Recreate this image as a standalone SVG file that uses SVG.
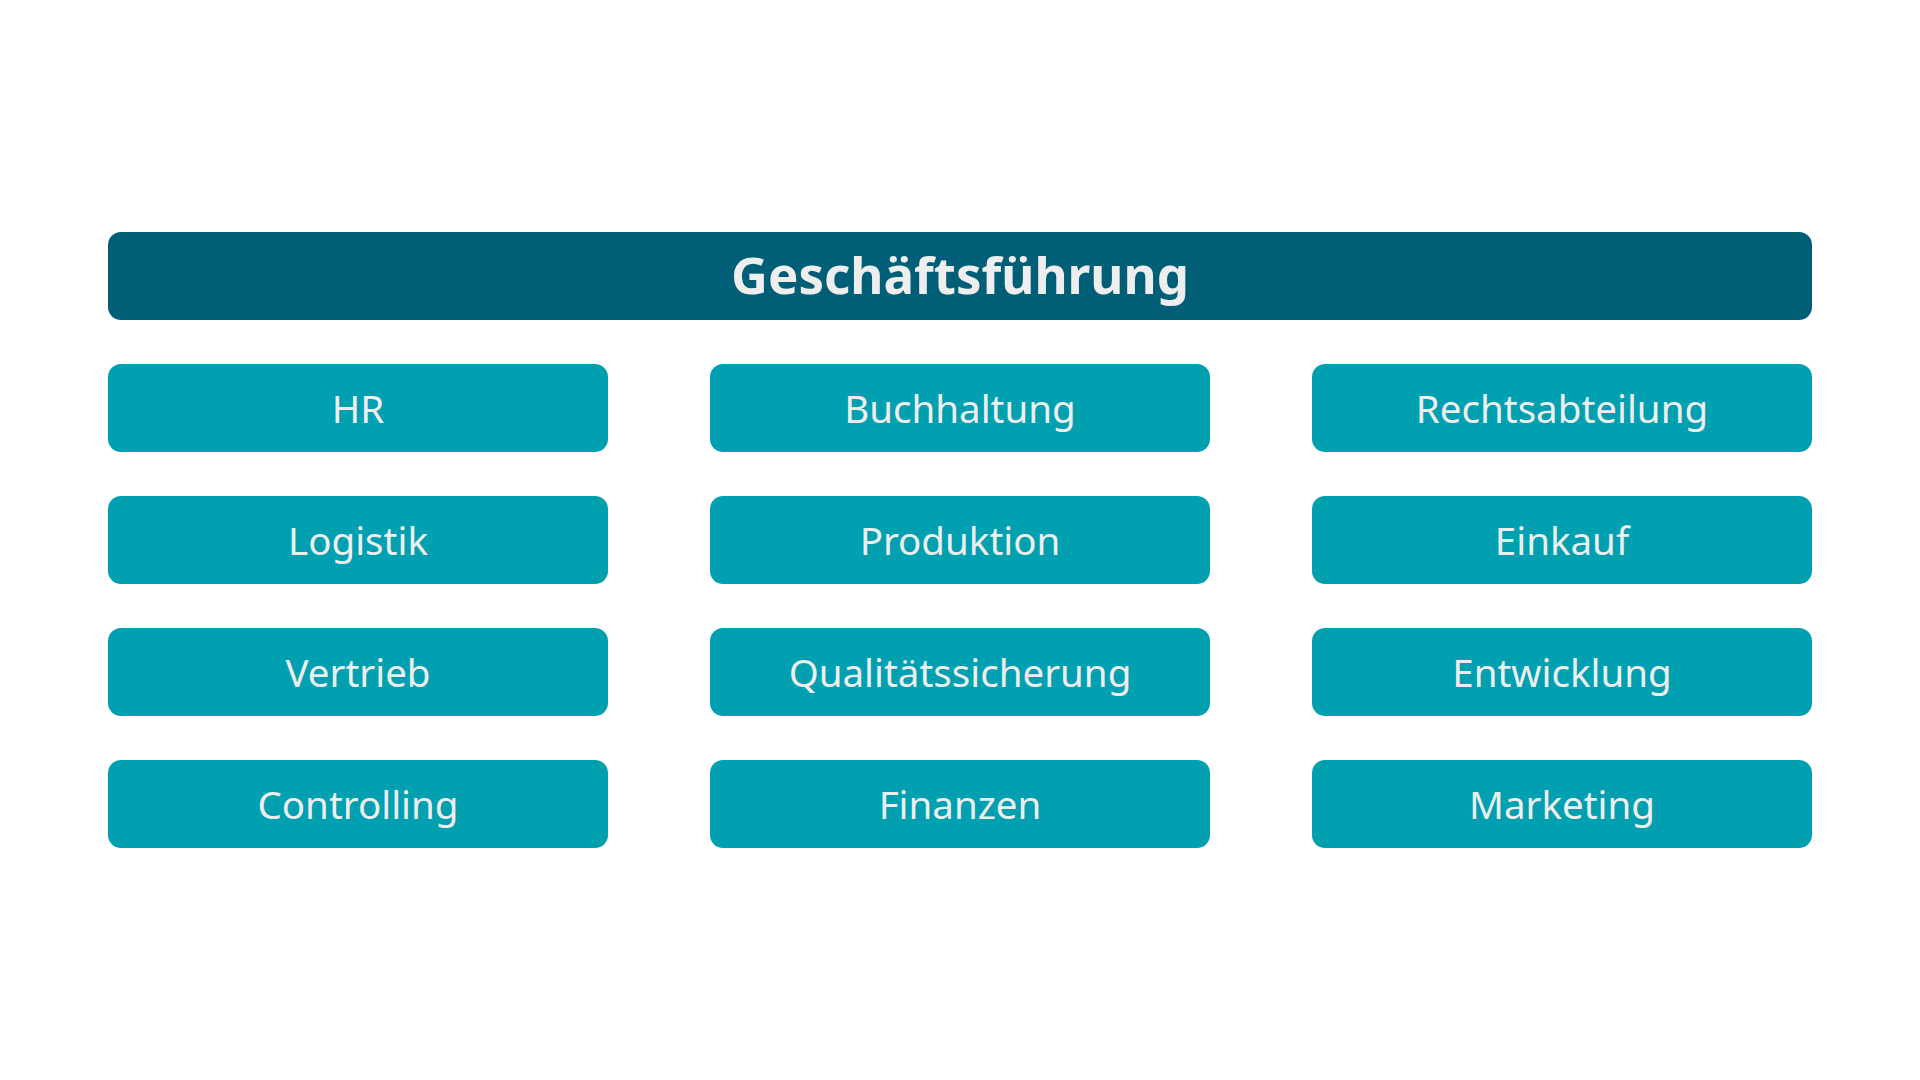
<svg xmlns="http://www.w3.org/2000/svg" width="1920" height="1080" viewBox="0 0 1920 1080">
<style>
.hdr{fill:#005f77}
.box{fill:#00a0b0}
.t{font-family:"Noto Sans","Open Sans","DejaVu Sans",sans-serif;fill:#eeeeee;text-anchor:middle}
.th{font-size:51px;font-weight:bold}
.tb{font-size:38.5px}
</style>
<rect width="1920" height="1080" fill="#ffffff"/>
<g id="geschaeftsfuehrung"><rect class="hdr" x="108" y="232" width="1704" height="88" rx="13"/><text class="t th" x="960" y="294">Geschäftsführung</text></g>
<g id="hr"><rect class="box" x="108" y="364" width="500" height="88" rx="13"/><text class="t tb" x="358" y="423">HR</text></g>
<g id="buchhaltung"><rect class="box" x="710" y="364" width="500" height="88" rx="13"/><text class="t tb" x="960" y="423">Buchhaltung</text></g>
<g id="rechtsabteilung"><rect class="box" x="1312" y="364" width="500" height="88" rx="13"/><text class="t tb" x="1562" y="423">Rechtsabteilung</text></g>
<g id="logistik"><rect class="box" x="108" y="496" width="500" height="88" rx="13"/><text class="t tb" x="358" y="555">Logistik</text></g>
<g id="produktion"><rect class="box" x="710" y="496" width="500" height="88" rx="13"/><text class="t tb" x="960" y="555">Produktion</text></g>
<g id="einkauf"><rect class="box" x="1312" y="496" width="500" height="88" rx="13"/><text class="t tb" x="1562" y="555">Einkauf</text></g>
<g id="vertrieb"><rect class="box" x="108" y="628" width="500" height="88" rx="13"/><text class="t tb" x="358" y="687">Vertrieb</text></g>
<g id="qualitaetssicherung"><rect class="box" x="710" y="628" width="500" height="88" rx="13"/><text class="t tb" x="960" y="687">Qualitätssicherung</text></g>
<g id="entwicklung"><rect class="box" x="1312" y="628" width="500" height="88" rx="13"/><text class="t tb" x="1562" y="687">Entwicklung</text></g>
<g id="controlling"><rect class="box" x="108" y="760" width="500" height="88" rx="13"/><text class="t tb" x="358" y="819">Controlling</text></g>
<g id="finanzen"><rect class="box" x="710" y="760" width="500" height="88" rx="13"/><text class="t tb" x="960" y="819">Finanzen</text></g>
<g id="marketing"><rect class="box" x="1312" y="760" width="500" height="88" rx="13"/><text class="t tb" x="1562" y="819">Marketing</text></g>
<g id="connectors"></g>
</svg>
